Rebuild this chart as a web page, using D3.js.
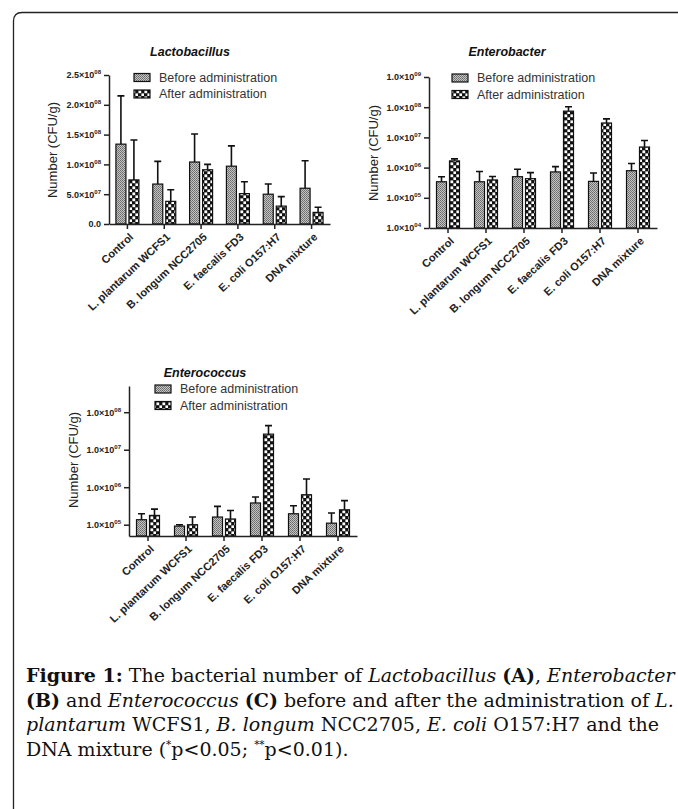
<!DOCTYPE html>
<html>
<head>
<meta charset="utf-8">
<script src="https://cdn.jsdelivr.net/npm/d3@7"></script>
<style>
  body { margin: 0; background: #fff; }
  svg { display: block; }
</style>
</head>
<body>
<svg width="678" height="809"></svg>
<script>
// categories shared by the three panels
var categories = ["Control", "L. plantarum WCFS1", "B. longum NCC2705", "E. faecalis FD3", "E. coli O157:H7", "DNA mixture"];
var seriesNames = ["Before administration", "After administration"];

// Lactobacillus (A) - mean and SD, CFU/g
var lactoBefore = [1.34e8, 0.67e8, 1.04e8, 0.97e8, 0.50e8, 0.60e8];
var lactoBeforeSd = [0.81e8, 0.38e8, 0.47e8, 0.34e8, 0.17e8, 0.46e8];
var lactoAfter = [0.74e8, 0.38e8, 0.91e8, 0.51e8, 0.30e8, 0.195e8];
var lactoAfterSd = [0.67e8, 0.195e8, 0.09e8, 0.20e8, 0.16e8, 0.085e8];
var lactoTicks = [0, 5e7, 1e8, 1.5e8, 2e8, 2.5e8];

// Enterobacter (B)
var enterobBefore = [3.4e5, 3.4e5, 5.0e5, 7.2e5, 3.5e5, 7.9e5];
var enterobBeforeSd = [1.6e5, 4.0e5, 3.8e5, 3.6e5, 3.1e5, 5.7e5];
var enterobAfter = [1.67e6, 3.9e5, 4.3e5, 7.4e7, 3.0e7, 4.8e6];
var enterobAfterSd = [0.27e6, 1.2e5, 2.5e5, 2.9e7, 1.1e7, 3.1e6];
var enterobTicks = [1e4, 1e5, 1e6, 1e7, 1e8, 1e9];

// Enterococcus (C)
var enterocBefore = [1.36e5, 0.92e5, 1.6e5, 3.8e5, 1.96e5, 1.1e5];
var enterocBeforeSd = [0.6e5, 0.08e5, 1.48e5, 1.7e5, 1.24e5, 0.95e5];
var enterocAfter = [1.77e5, 1.0e5, 1.42e5, 2.6e7, 6.3e5, 2.5e5];
var enterocAfterSd = [0.83e5, 0.6e5, 0.98e5, 1.8e7, 1.03e6, 1.9e5];
var enterocTicks = [1e5, 1e6, 1e7, 1e8];

var svg = d3.select("svg");
var defs = svg.append("defs");
var chartFont = "'Liberation Sans', Arial, sans-serif";

// fill patterns for the two series
var pBefore = defs.append("pattern").attr("id", "pBefore")
  .attr("width", 2).attr("height", 2).attr("patternUnits", "userSpaceOnUse");
pBefore.append("rect").attr("width", 2).attr("height", 2).attr("fill", "#c4c4c4");
pBefore.append("rect").attr("width", 1).attr("height", 1).attr("fill", "#6a6a6a");
pBefore.append("rect").attr("x", 1).attr("y", 1).attr("width", 1).attr("height", 1).attr("fill", "#7a7a7a");

var pAfter = defs.append("pattern").attr("id", "pAfter")
  .attr("width", 6).attr("height", 6).attr("patternUnits", "userSpaceOnUse");
pAfter.append("rect").attr("width", 6).attr("height", 6).attr("fill", "#111");
pAfter.append("rect").attr("x", 0.4).attr("y", 0.4).attr("width", 2.8).attr("height", 2.8).attr("fill", "#fff");
pAfter.append("rect").attr("x", 3.4).attr("y", 3.4).attr("width", 2.8).attr("height", 2.8).attr("fill", "#fff");
var fills = ["url(#pBefore)", "url(#pAfter)"];

// frame around the figure
svg.append("path")
  .attr("d", "M13.5,809 V21 Q13.5,12.5 22,12.5 H690")
  .attr("fill", "none").attr("stroke", "#222").attr("stroke-width", 1.3);

var panels = [
  { title: "Lactobacillus", log: false, domain: [0, 2.5e8], ticks: lactoTicks,
    before: lactoBefore, beforeSd: lactoBeforeSd, after: lactoAfter, afterSd: lactoAfterSd,
    x0: 109, x1: 330, yTop: 75, yBot: 224, titleX: 190, titleY: 56,
    legX: 134, legY: 77.5, labX: 52, labY: 150 },
  { title: "Enterobacter", log: true, domain: [1e4, 1e9], ticks: enterobTicks,
    before: enterobBefore, beforeSd: enterobBeforeSd, after: enterobAfter, afterSd: enterobAfterSd,
    x0: 429, x1: 657, yTop: 77, yBot: 228, titleX: 507, titleY: 56,
    legX: 452, legY: 78, labX: 373, labY: 153 },
  { title: "Enterococcus", log: true, domain: [5e4, 5e8], ticks: enterocTicks,
    before: enterocBefore, beforeSd: enterocBeforeSd, after: enterocAfter, afterSd: enterocAfterSd,
    x0: 129, x1: 357, yTop: 386, yBot: 536, titleX: 205, titleY: 377,
    legX: 155, legY: 389, labX: 73, labY: 460 }
];

function tickLabel(sel, v) {
  sel.text(null);
  if (v === 0) { sel.text("0.0"); return; }
  var parts = v.toExponential(1).split("e");
  var e = +parts[1];
  sel.append("tspan").text(parts[0] + "×10");
  sel.append("tspan").attr("dy", -4).attr("font-size", 6).text((e < 10 ? "0" : "") + e);
}

panels.forEach(function(p) {
  var g = svg.append("g").attr("font-family", chartFont);

  var x = d3.scaleBand().domain(categories).range([p.x0, p.x1]);
  var y = (p.log ? d3.scaleLog() : d3.scaleLinear()).domain(p.domain).range([p.yBot, p.yTop]);
  var base = y(p.domain[0]);

  // bars, series offset inside each category
  var series = [
    { vals: p.before, sd: p.beforeSd, off: -11.5 },
    { vals: p.after, sd: p.afterSd, off: 1.5 }
  ];
  series.forEach(function(s, si) {
    var sg = g.append("g");
    sg.selectAll("rect").data(categories).enter().append("rect")
      .attr("x", function(c) { return x(c) + x.bandwidth() / 2 + s.off; })
      .attr("y", function(c, i) { return y(s.vals[i]); })
      .attr("width", 10)
      .attr("height", function(c, i) { return base - y(s.vals[i]); })
      .attr("fill", fills[si]).attr("stroke", "#111").attr("stroke-width", 1.2);
    // upper error bars
    sg.selectAll("path.err").data(categories).enter().append("path")
      .attr("class", "err")
      .attr("d", function(c, i) {
        var cx = x(c) + x.bandwidth() / 2 + s.off + 5;
        var t = y(s.vals[i] + s.sd[i]), b = y(s.vals[i]);
        return "M" + cx + "," + b + "V" + t + "M" + (cx - 3.5) + "," + t + "H" + (cx + 3.5);
      })
      .attr("fill", "none").attr("stroke", "#111").attr("stroke-width", 1.6);
  });

  // y axis
  var ya = g.append("g").attr("transform", "translate(" + p.x0 + ",0)")
    .call(d3.axisLeft(y).tickValues(p.ticks).tickSize(5).tickSizeOuter(0).tickPadding(3));
  ya.selectAll("text").attr("font-size", 9).attr("font-weight", "bold").attr("fill", "#222")
    .each(function(v) { tickLabel(d3.select(this), v); });

  // x axis
  var xa = g.append("g").attr("transform", "translate(0," + p.yBot + ")")
    .call(d3.axisBottom(x).tickSize(5).tickSizeOuter(0));
  xa.selectAll("text")
    .attr("x", 0).attr("y", 0).attr("dy", "0.35em")
    .attr("transform", "translate(4,11) rotate(-43)")
    .attr("text-anchor", "end").attr("font-size", 11).attr("font-weight", "bold").attr("fill", "#222");
  g.selectAll(".domain, .tick line").attr("stroke", "#222").attr("stroke-width", 1.5);

  // title
  g.append("text").attr("x", p.titleX).attr("y", p.titleY)
    .attr("text-anchor", "middle").attr("font-size", 12.5)
    .attr("font-weight", "bold").attr("font-style", "italic").attr("fill", "#111")
    .text(p.title);

  // y axis label
  g.append("text").attr("transform", "translate(" + p.labX + "," + p.labY + ") rotate(-90)")
    .attr("text-anchor", "middle").attr("dy", "0.35em").attr("font-size", 13).attr("fill", "#222")
    .text("Number (CFU/g)");

  // legend
  seriesNames.forEach(function(name, i) {
    var ly = p.legY + i * 16.5;
    g.append("rect").attr("x", p.legX).attr("y", ly - 4).attr("width", 16).attr("height", 8)
      .attr("fill", fills[i]).attr("stroke", "#111").attr("stroke-width", 1.2);
    g.append("text").attr("x", p.legX + 25).attr("y", ly).attr("dy", "0.35em")
      .attr("font-size", 12.5).attr("fill", "#333").text(name);
  });
});

// caption
var captionLines = [
  [["b", "Figure 1:"], ["", " The bacterial number of "], ["i", "Lactobacillus"], ["", " "], ["b", "(A)"], ["", ", "], ["i", "Enterobacter"]],
  [["b", "(B)"], ["", " and "], ["i", "Enterococcus"], ["", " "], ["b", "(C)"], ["", " before and after the administration of "], ["i", "L."]],
  [["i", "plantarum"], ["", " WCFS1, "], ["i", "B. longum"], ["", " NCC2705, "], ["i", "E. coli"], ["", " O157:H7 and the"]],
  [["", "DNA mixture ("], ["s", "*"], ["", "p<0.05; "], ["s", "**"], ["", "p<0.01)."]]
];
var cap = svg.append("g").attr("font-family", "'DejaVu Serif', 'Liberation Serif', serif").attr("fill", "#111");
var capSize = 18;
captionLines.forEach(function(line, li) {
  var t = cap.append("text").attr("x", 26).attr("y", 682 + li * 24.5).attr("font-size", capSize);
  line.forEach(function(seg) {
    var ts = t.append("tspan").text(seg[1]);
    if (seg[0] === "b") ts.attr("font-weight", "bold");
    if (seg[0] === "i") ts.attr("font-style", "italic");
    if (seg[0] === "s") ts.attr("font-size", capSize * 0.55).attr("dy", -8);
    if (seg[0] !== "s" && li === 3 && seg[1] !== "DNA mixture (") ts.attr("dy", 8);
  });
});
// fit the caption width to the page like the reference (lines 2 and 3 reach the right edge)
var capNodes = cap.selectAll("text").nodes();
var k = Math.min(650 / capNodes[2].getComputedTextLength(), 648 / capNodes[1].getComputedTextLength());
cap.selectAll("text").attr("font-size", capSize * k);
cap.selectAll("tspan").filter(function() { return d3.select(this).attr("font-size"); })
  .attr("font-size", capSize * k * 0.55);
</script>
</body>
</html>
